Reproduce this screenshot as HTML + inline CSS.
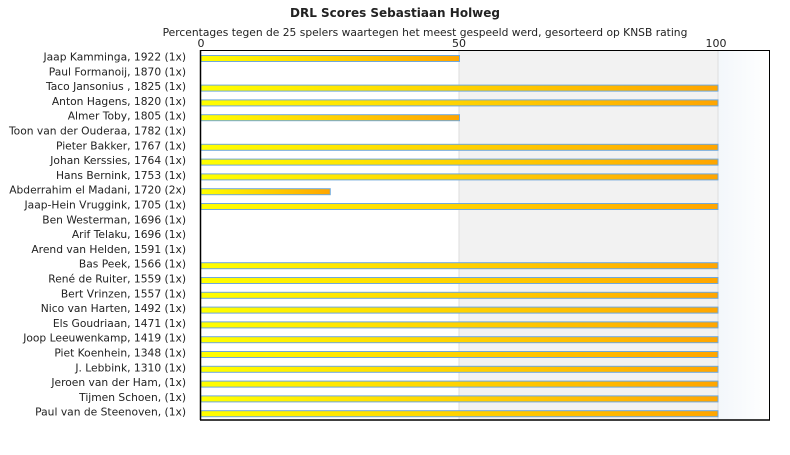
<!DOCTYPE html>
<html><head><meta charset="utf-8"><style>
body{margin:0;background:#fff;width:790px;height:450px;overflow:hidden}
svg text{font-family:"DejaVu Sans","Liberation Sans",sans-serif;fill:#222}
</style></head><body>
<svg width="790" height="450" xmlns="http://www.w3.org/2000/svg">
<defs>
<linearGradient id="g" x1="0" x2="1" y1="0" y2="0"><stop offset="0" stop-color="#ffff00"/><stop offset="1" stop-color="#ffa500"/></linearGradient>
<linearGradient id="bg" x1="0" x2="1"><stop offset="0" stop-color="#f3f7fb"/><stop offset="1" stop-color="#ffffff"/></linearGradient>
</defs>
<text x="395" y="17" text-anchor="middle" font-size="12" font-weight="bold">DRL Scores Sebastiaan Holweg</text>
<text x="425" y="36" text-anchor="middle" font-size="10.7">Percentages tegen de 25 spelers waartegen het meest gespeeld werd, gesorteerd op KNSB rating</text>
<rect x="459" y="50" width="259" height="370" fill="#f2f2f2"/>
<rect x="718" y="50" width="52" height="370" fill="url(#bg)"/>
<line x1="459" y1="50" x2="459" y2="420" stroke="#ddd"/>
<line x1="718" y1="50" x2="718" y2="420" stroke="#ddd"/>
<text x="201" y="47" text-anchor="middle" font-size="11">0</text>
<text x="459" y="47" text-anchor="middle" font-size="11">50</text>
<text x="716" y="47" text-anchor="middle" font-size="11">100</text>
<g id="bars"></g>
<rect x="200.5" y="50.5" width="569" height="369.5" fill="none" stroke="#000" stroke-width="1"/>
<line x1="200" y1="420" x2="770" y2="420" stroke="#000" stroke-width="1.5"/>
<line x1="200.5" y1="50" x2="200.5" y2="420" stroke="#000" stroke-width="1.5"/>
</svg>
<script>
var d=[["Jaap Kamminga, 1922 (1x)",50],["Paul Formanoij, 1870 (1x)",0],["Taco Jansonius , 1825 (1x)",100],["Anton Hagens, 1820 (1x)",100],["Almer Toby, 1805 (1x)",50],["Toon van der Ouderaa, 1782 (1x)",0],["Pieter Bakker, 1767 (1x)",100],["Johan Kerssies, 1764 (1x)",100],["Hans Bernink, 1753 (1x)",100],["Abderrahim el Madani, 1720 (2x)",25],["Jaap-Hein Vruggink, 1705 (1x)",100],["Ben Westerman, 1696 (1x)",0],["Arif Telaku, 1696 (1x)",0],["Arend van Helden, 1591 (1x)",0],["Bas Peek, 1566 (1x)",100],["René de Ruiter, 1559 (1x)",100],["Bert Vrinzen, 1557 (1x)",100],["Nico van Harten, 1492 (1x)",100],["Els Goudriaan, 1471 (1x)",100],["Joop Leeuwenkamp, 1419 (1x)",100],["Piet Koenhein, 1348 (1x)",100],["J. Lebbink, 1310 (1x)",100],["Jeroen van der Ham,  (1x)",100],["Tijmen Schoen,  (1x)",100],["Paul van de Steenoven,  (1x)",100]];
var ns="http://www.w3.org/2000/svg",svg=document.querySelector("svg"),bars=document.getElementById("bars");
d.forEach(function(r,i){
 var yc=57+14.8*i;
 var t=document.createElementNS(ns,"text");t.setAttribute("x",186);t.setAttribute("y",yc+3.5);t.setAttribute("font-size","10.7");t.setAttribute("text-anchor","end");t.setAttribute("xml:space","preserve");t.textContent=r[0];svg.appendChild(t);
 if(r[1]>0){var b=document.createElementNS(ns,"rect");b.setAttribute("x",201);b.setAttribute("y",55.5+14.8*i);b.setAttribute("width",r[1]*5.17);b.setAttribute("height",6);b.setAttribute("fill","url(#g)");b.setAttribute("stroke","#6fa8dc");b.setAttribute("stroke-width","1");bars.appendChild(b);}
});
</script>
</body></html>
